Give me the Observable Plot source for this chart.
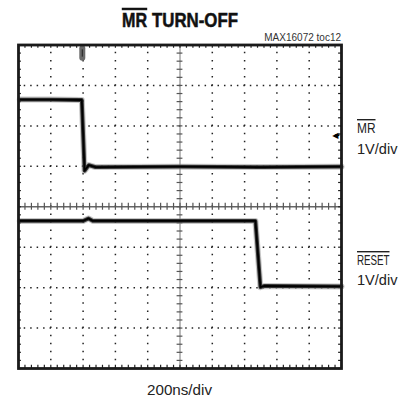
<!DOCTYPE html>
<html>
<head>
<meta charset="utf-8">
<script src="https://cdn.jsdelivr.net/npm/d3@7"></script>
<script src="https://cdn.jsdelivr.net/npm/@observablehq/plot@0.6"></script>
<style>
  html, body { margin: 0; padding: 0; background: #fff; }
  #chart { width: 411px; height: 400px; }
</style>
</head>
<body>
<div id="chart"></div>
<script>
// ---- data (time in ns, 200 ns/div; amplitude in divisions, 1 V/div) ----
const mrTime    = [8, 200, 392, 409, 435, 477, 1000, 1500, 2000];
const mrVolt    = [2.65, 2.65, 2.64, 0.89, 1.03, 0.98, 0.99, 0.98, 0.99];
const resetTime = [8, 400, 433, 460, 1000, 1467, 1498, 1520, 2000];
const resetVolt = [-0.35, -0.35, -0.29, -0.35, -0.35, -0.35, -1.99, -1.96, -1.97];
const triggerTime = [395];
const groundMarker = [1.77];

// graticule ticks
const majorT = [200, 400, 600, 800, 1000, 1200, 1400, 1600, 1800];
const majorV = [-3, -2, -1, 1, 2, 3];
const minorT = d3.range(0, 2001, 40);
const minorV = d3.range(-4, 4.001, 0.2);

const titleMain = "TURN-OFF";
const titleBar = "MR";
const partLabel = "MAX16072 toc12";
const ch1Name = "MR", ch1Scale = "1V/div";
const ch2Name = "RESET", ch2Scale = "1V/div";
const timeLabel = "200ns/div";

const mr = mrTime.map((t, i) => ({t, v: mrVolt[i]}));
const rs = resetTime.map((t, i) => ({t, v: resetVolt[i]}));

const trace = (data) => [
  Plot.line(data, {x: "t", y: "v", stroke: "#8f8f8f", strokeWidth: 6, strokeOpacity: 0.5}),
  Plot.line(data, {x: "t", y: "v", stroke: "#333", strokeWidth: 3.8}),
  Plot.line(data, {x: "t", y: "v", stroke: "#000", strokeWidth: 1.8})
];

const plot = Plot.plot({
  width: 411,
  height: 400,
  marginLeft: 18,
  marginRight: 70,
  marginTop: 44.5,
  marginBottom: 32,
  x: {domain: [0, 2000], axis: null},
  y: {domain: [-4, 4], axis: null},
  marks: [
    // dotted major grid
    Plot.ruleX(majorT.filter(d => d !== 1000), {x: d => d, stroke: "#222", strokeWidth: 1.5, strokeDasharray: "1.5,6.58", strokeDashoffset: 0.75}),
    Plot.ruleY(majorV, {y: d => d, stroke: "#222", strokeWidth: 1.5, strokeDasharray: "1.5,4.96", strokeDashoffset: 0.75}),
    // centre axes
    Plot.ruleX([1000], {x: d => d, stroke: "#777", strokeWidth: 1}),
    Plot.ruleY([0], {y: d => d, stroke: "#666", strokeWidth: 1.6}),
    Plot.ruleX(minorT, {x: d => d, y1: -0.085, y2: 0.085, stroke: "#555", strokeWidth: 1.2}),
    Plot.ruleY(minorV, {y: d => d, x1: 982, x2: 1018, stroke: "#555", strokeWidth: 1.2}),
    // edge minor ticks
    Plot.ruleX(minorT, {x: d => d, y1: 4, y2: 3.92, stroke: "#222", strokeWidth: 1.2}),
    Plot.ruleX(minorT, {x: d => d, y1: -4, y2: -3.92, stroke: "#222", strokeWidth: 1.2}),
    Plot.ruleY(minorV, {y: d => d, x1: 0, x2: 18, stroke: "#222", strokeWidth: 1.2}),
    Plot.ruleY(minorV, {y: d => d, x1: 1982, x2: 2000, stroke: "#222", strokeWidth: 1.2}),
    // traces
    ...trace(mr),
    ...trace(rs),
    // trigger marker
    Plot.ruleX(triggerTime, {x: d => d, y1: 3.91, y2: 3.67, stroke: "#6a6a6a", strokeWidth: 6, strokeLinecap: "round"}),
    Plot.ruleX(triggerTime, {x: d => d, y1: 3.88, y2: 3.7, stroke: "#222", strokeWidth: 1}),
    // ground reference arrow (filled head + short tail)
    Plot.ruleY(groundMarker, {y: d => d, x1: 1962, x2: 1990, stroke: "#000", strokeWidth: 1.6}),
    Plot.text(groundMarker, {x: 1962, y: d => d, text: () => "◀", fontSize: 8, fill: "#000", fontFamily: "DejaVu Sans"}),
    Plot.frame({stroke: "#1a1a1a", strokeWidth: 2.8})
  ]
});

document.getElementById("chart").appendChild(plot);

// texts
const svg = d3.select(plot);
const sans = "'Liberation Sans', Arial, sans-serif";

const addText = (txt, x, y, size, len, opts = {}) => {
  const t = svg.append("text")
    .attr("x", x).attr("y", y)
    .attr("text-anchor", opts.anchor || "start")
    .style("font-family", sans)
    .style("font-size", size + "px")
    .style("font-weight", opts.bold ? "bold" : "normal")
    .attr("fill", opts.fill || "#222")
    .text(txt);
  if (len) t.attr("textLength", len).attr("lengthAdjust", "spacingAndGlyphs");
  if (opts.over) t.style("text-decoration", "overline");
  if (opts.heavy) t.attr("stroke", opts.fill || "#111").attr("stroke-width", 0.5);
  return t;
};

// title (overlined MR + TURN-OFF)
addText(titleBar, 122, 27, 19.5, 25, {bold: true, over: true, heavy: true, fill: "#111"});
addText(titleMain, 152, 27, 19.5, 86, {bold: true, heavy: true, fill: "#111"});

addText(partLabel, 341, 41, 10, null, {anchor: "end", fill: "#333"});

addText(ch1Name, 357, 133, 14, 18.5, {over: true});
addText(ch1Scale, 357, 153.5, 14, 40.5);
addText(ch2Name, 357, 265, 14, 32.5, {over: true});
addText(ch2Scale, 357, 285, 14, 40.5);

addText(timeLabel, 147, 395, 15, 65);
</script>
</body>
</html>
